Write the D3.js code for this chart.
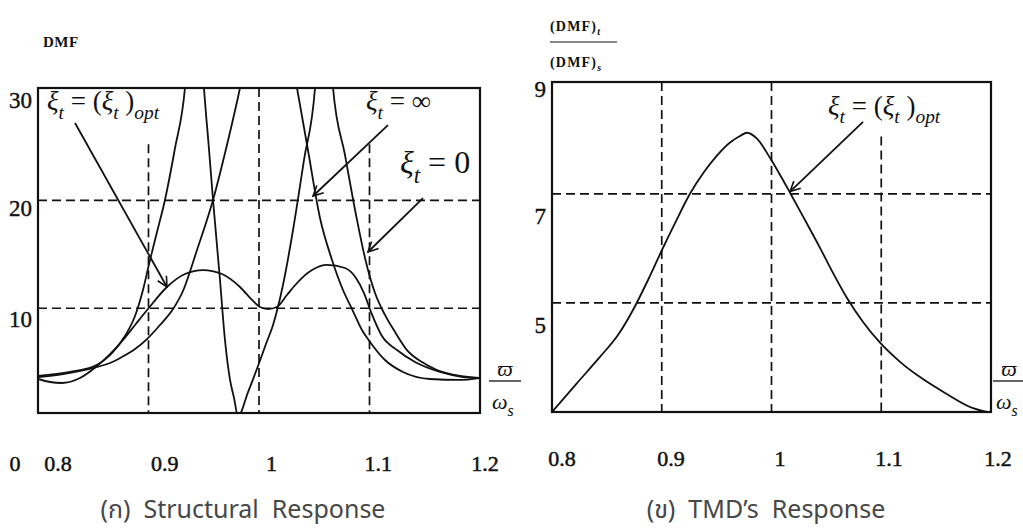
<!DOCTYPE html>
<html>
<head>
<meta charset="utf-8">
<script src="https://cdn.jsdelivr.net/npm/d3@7"></script>
<style>
  body { margin: 0; background: #fff; }
  text { white-space: pre; }
</style>
</head>
<body>
<svg id="chart" width="1023" height="530"></svg>
<script>
// ---- data ----
const freqTicks = [0.8, 0.9, 1, 1.1, 1.2];
const freqGrid = [0.9, 1, 1.1];
const dmfTicks = [30, 20, 10];
const dmfGrid = [20, 10];
const dmfGridTop = [25.2, 30.4, 25.2];      // where the vertical dashes start (left)
const tmdTicks = [9, 7, 5];
const tmdGrid = [7, 5];
const tmdGridTop = [9.05, 9.05, 8.05];     // where the vertical dashes start (right)

// xi_t = 0 (undamped TMD), peaks run off the top
const freqZero = [0.800, 0.829, 0.853, 0.8679, 0.8787, 0.8878, 0.895, 0.9005, 0.9077, 0.9149, 0.924, 0.933, 0.942,
  0.9502, 0.9548, 0.9584, 0.9647, 0.9692, 0.9738, 0.9774, 0.981, 0.9901, 0.9991, 1.0063, 1.0127, 1.0217, 1.0308, 1.0407, 1.0507, 1.0588,
  1.067, 1.0778, 1.0887, 1.0968, 1.105, 1.114, 1.1231, 1.1339, 1.1475, 1.1611, 1.1819, 1.1991];
const dmfZero = [3.73, 4.10, 4.75, 5.95, 7.43, 9.28, 11.69, 14.1, 17.06, 20.03, 24.84, 30.4, 45,
  30.4, 24.66, 20.03, 12.62, 7.06, 3.36, 1.69, 0, 2.24, 4.65, 6.69, 8.45, 12.15, 17.25, 23.73, 30.4, 45,
  30.4, 24.2, 18.18, 14.28, 11.41, 9.38, 7.8, 6.13, 5.02, 4.28, 3.73, 3.54];

// xi_t = infinity (locked TMD)
const freqInf = [0.800, 0.8226, 0.8534, 0.8652, 0.876, 0.8878, 0.8986, 0.9104, 0.9222, 0.9312, 0.9439, 0.9584, 0.971, 0.9828, 1.0086,
  1.0344, 1.0443, 1.0552, 1.0661, 1.076, 1.0842, 1.0932, 1.1005, 1.114, 1.1303, 1.1548, 1.1819, 1.1991];
const dmfInf = [3.63, 3.91, 4.56, 4.93, 5.49, 6.23, 7.15, 8.45, 9.93, 11.6, 15.4, 20.03, 25.12, 30.4, 45,
  30.4, 24.66, 18.36, 14.47, 11.69, 9.93, 7.99, 6.88, 5.21, 4.10, 3.45, 3.36, 3.54];

// xi_t = (xi_t)opt
const freqOpt = [0.800, 0.8109, 0.8217, 0.838, 0.8534, 0.8652, 0.8769, 0.8878, 0.8995, 0.9167, 0.933, 0.9493, 0.9665,
  0.9828, 0.9937, 1.0009, 1.0081, 1.0163, 1.0253, 1.0344, 1.048, 1.0615, 1.0778, 1.0878, 1.095, 1.1014, 1.1113,
  1.1249, 1.1412, 1.1638, 1.1846, 1.1991];
const dmfOpt = [3.45, 3.17, 3.08, 3.54, 4.65, 5.76, 7.06, 8.45, 9.93, 11.97, 13.17, 13.54, 13.17,
  11.97, 10.77, 10.12, 9.93, 10.12, 11.23, 12.34, 13.54, 14.01, 13.73, 12.8, 11.41, 9.65, 7.43,
  6.13, 5.02, 4.10, 3.63, 3.54];

// TMD response ratio (DMF)t/(DMF)s
const freqTmd = [0.8009, 0.8228, 0.8437, 0.8601, 0.8738, 0.8875, 0.9002, 0.913, 0.9257, 0.9385, 0.9503, 0.9622, 0.9713,
  0.9777, 0.9868, 0.9986, 1.0077, 1.0169, 1.0305, 1.0442, 1.056, 1.0688, 1.0834, 1.0989, 1.1171, 1.1353, 1.1581,
  1.1836, 1.1964];
const ratioTmd = [3.02, 3.53, 4.01, 4.41, 4.87, 5.42, 5.97, 6.50, 7.00, 7.40, 7.70, 7.94, 8.06,
  8.12, 8.01, 7.66, 7.35, 7.02, 6.52, 6.01, 5.55, 5.09, 4.65, 4.27, 3.92, 3.64, 3.35,
  3.07, 3.00];

const svg = d3.select("#chart");
const serif = "'Liberation Serif', 'Times New Roman', serif";
const ink = "#111";

svg.append("defs").append("marker")
  .attr("id", "arrow")
  .attr("viewBox", "0 0 12 12")
  .attr("refX", 11).attr("refY", 6)
  .attr("markerWidth", 12).attr("markerHeight", 12)
  .attr("markerUnits", "userSpaceOnUse")
  .attr("orient", "auto")
  .append("path")
  .attr("d", "M1,1 L11,6 L1,11")
  .attr("fill", "none").attr("stroke", ink).attr("stroke-width", 1.6);

// math-ish label with italic/subscript pieces
function addMath(g, x, y, size, parts) {
  const t = g.append("text").attr("x", x).attr("y", y)
    .attr("font-family", serif).attr("font-size", size).attr("fill", ink);
  let shift = 0;
  parts.forEach(function (p) {
    const want = p.sub ? size * 0.32 : 0;
    t.append("tspan")
      .attr("dy", want - shift)
      .attr("font-style", p.it ? "italic" : "normal")
      .attr("font-weight", p.bold ? "bold" : "normal")
      .attr("font-size", p.sub ? size * 0.72 : size)
      .text(p.t);
    shift = want;
  });
  return t;
}

function drawPanel(opt) {
  const g = svg.append("g");
  const x = d3.scaleLinear().domain([0.8, 1.2]).range(opt.xRange);
  const y = d3.scaleLinear().domain(opt.yDomain).range(opt.yRange);
  const xLab = d3.scaleLinear().domain([0.8, 1.2]).range(opt.xLabRange);

  g.append("clipPath").attr("id", opt.id + "-clip")
    .append("rect")
    .attr("x", x(0.8)).attr("y", y(opt.yDomain[1]))
    .attr("width", x(1.2) - x(0.8)).attr("height", y(opt.yDomain[0]) - y(opt.yDomain[1]));

  // dashed grid
  g.append("g").selectAll("line").data(opt.hGrid).enter().append("line")
    .attr("x1", x(0.8)).attr("x2", x(1.2))
    .attr("y1", function (d) { return y(d); }).attr("y2", function (d) { return y(d); })
    .attr("stroke", ink).attr("stroke-width", 1.7).attr("stroke-dasharray", "9,5");
  g.append("g").selectAll("line").data(freqGrid).enter().append("line")
    .attr("x1", function (d) { return x(d); }).attr("x2", function (d) { return x(d); })
    .attr("y1", function (d, i) { return y(opt.vGridTop[i]); }).attr("y2", y(opt.yDomain[0]))
    .attr("stroke", ink).attr("stroke-width", 1.7).attr("stroke-dasharray", "9,5");

  // curves
  const line = d3.line()
    .x(function (d) { return x(d[0]); })
    .y(function (d) { return y(d[1]); })
    .curve(d3.curveMonotoneX);
  const curves = g.append("g").attr("clip-path", "url(#" + opt.id + "-clip)");
  opt.series.forEach(function (s) {
    curves.append("path")
      .datum(d3.zip(s[0], s[1]))
      .attr("d", line)
      .attr("fill", "none").attr("stroke", ink).attr("stroke-width", 1.8);
  });

  // frame
  g.append("rect")
    .attr("x", x(0.8)).attr("y", y(opt.yDomain[1]))
    .attr("width", x(1.2) - x(0.8)).attr("height", y(opt.yDomain[0]) - y(opt.yDomain[1]))
    .attr("fill", "none").attr("stroke", ink).attr("stroke-width", 2.2);

  // tick labels
  g.append("g").selectAll("text").data(freqTicks).enter().append("text")
    .attr("x", function (d) { return xLab(d); }).attr("y", opt.xLabY)
    .attr("text-anchor", "middle").attr("dominant-baseline", "central")
    .attr("font-family", serif).attr("font-size", 22).attr("fill", ink)
    .attr("stroke", ink).attr("stroke-width", 0.5)
    .text(function (d) { return d; });
  g.append("g").selectAll("text").data(opt.yTicks).enter().append("text")
    .attr("x", x(0.8) - 6).attr("y", function (d, i) { return y(d) + opt.yLabShift(i); })
    .attr("text-anchor", "end").attr("dominant-baseline", "central")
    .attr("font-family", serif).attr("font-size", 23).attr("fill", ink)
    .attr("stroke", ink).attr("stroke-width", 0.4)
    .text(function (d) { return d; });

  // omega / omega_s
  const fx = opt.omegaX;
  addMath(g, fx, 376, 22, [{ t: "ϖ", it: true }]).attr("text-anchor", "middle");
  g.append("line").attr("x1", fx - 16).attr("x2", fx + 16).attr("y1", 381).attr("y2", 381)
    .attr("stroke", ink).attr("stroke-width", 1.3);
  addMath(g, fx - 13, 409, 22, [{ t: "ω", it: true }, { t: "s", it: true, sub: true }]);

  return { g: g, x: x, y: y };
}

const left = drawPanel({
  id: "left",
  xRange: [38, 480], yDomain: [0.3, 30.4], yRange: [413, 88],
  xLabRange: [58, 485], xLabY: 463,
  hGrid: dmfGrid, vGridTop: dmfGridTop, yTicks: dmfTicks,
  yLabShift: function (i) { return i === 2 ? 11 : 8; },
  omegaX: 505,
  series: [[freqZero, dmfZero], [freqInf, dmfInf], [freqOpt, dmfOpt]]
});

const right = drawPanel({
  id: "right",
  xRange: [552, 991], yDomain: [3, 9.05], yRange: [412, 82],
  xLabRange: [562, 998], xLabY: 458,
  hGrid: tmdGrid, vGridTop: tmdGridTop, yTicks: tmdTicks,
  yLabShift: function (i) { return i === 0 ? 5 : 23; },
  omegaX: 1009,
  series: [[freqTmd, ratioTmd]]
});

// y axis titles
svg.append("text").attr("x", 43).attr("y", 47)
  .attr("font-family", serif).attr("font-size", 15).attr("font-weight", "bold")
  .attr("letter-spacing", 0.5).attr("fill", ink)
  .text("DMF");
addMath(svg, 550, 31, 14, [{ t: "(DMF)", bold: true }, { t: "t", it: true, bold: true, sub: true }])
  .attr("letter-spacing", 1.2);
svg.append("line").attr("x1", 550).attr("x2", 617).attr("y1", 42).attr("y2", 42)
  .attr("stroke", ink).attr("stroke-width", 1);
addMath(svg, 550, 67, 14, [{ t: "(DMF)", bold: true }, { t: "s", it: true, bold: true, sub: true }])
  .attr("letter-spacing", 1.2);
svg.append("text").attr("x", 15).attr("y", 463)
  .attr("text-anchor", "middle").attr("dominant-baseline", "central")
  .attr("font-family", serif).attr("font-size", 22).attr("fill", ink)
  .attr("stroke", ink).attr("stroke-width", 0.5).text("0");

// annotations (positions in data units)
const optParts = [{ t: "ξ", it: true }, { t: "t", it: true, sub: true }, { t: " = (" },
  { t: "ξ", it: true }, { t: "t", it: true, sub: true }, { t: " )" }, { t: "opt", it: true, sub: true }];

function arrow(p, a, b) {
  svg.append("line")
    .attr("x1", p.x(a[0])).attr("y1", p.y(a[1]))
    .attr("x2", p.x(b[0])).attr("y2", p.y(b[1]))
    .attr("stroke", ink).attr("stroke-width", 1.8)
    .attr("marker-end", "url(#arrow)");
}

addMath(svg, left.x(0.8081), left.y(28.36), 27, optParts);
arrow(left, [0.8335, 27.16], [0.9167, 11.97]);

addMath(svg, left.x(1.0968), left.y(28.36), 27,
  [{ t: "ξ", it: true }, { t: "t", it: true, sub: true }, { t: " = ∞" }]);
arrow(left, [1.1167, 26.97], [1.0489, 20.4]);

addMath(svg, left.x(1.1276), left.y(22.53), 32,
  [{ t: "ξ", it: true }, { t: "t", it: true, sub: true }, { t: " = 0" }]);
arrow(left, [1.1484, 20.21], [1.0986, 15.21]);

addMath(svg, right.x(1.0515), right.y(8.45), 27, optParts);
arrow(right, [1.0834, 8.32], [1.0169, 7.04]);

// captions
const captions = ["(ก)  Structural  Response", "(ข)  TMD’s  Response"];
svg.selectAll("text.caption").data(captions).enter().append("text")
  .attr("class", "caption")
  .attr("x", function (d, i) { return i === 0 ? left.x(0.9855) : right.x(0.995); })
  .attr("y", 518)
  .attr("text-anchor", "middle")
  .attr("font-family", "'Noto Sans Thai', 'Noto Sans', 'DejaVu Sans', sans-serif")
  .attr("font-size", 25).attr("fill", "#474747")
  .text(function (d) { return d; });
</script>
</body>
</html>
